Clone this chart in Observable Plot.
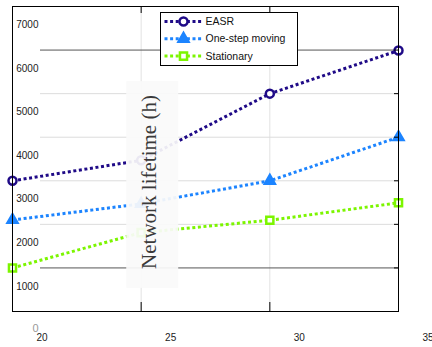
<!DOCTYPE html>
<html><head><meta charset="utf-8">
<script src="https://cdn.jsdelivr.net/npm/d3@7"></script>
<script src="https://cdn.jsdelivr.net/npm/@observablehq/plot@0.6"></script>
<style>
html,body{margin:0;padding:0;background:#fff;}
#wrap{position:relative;width:432px;height:347px;overflow:hidden;background:#fff;}
#legend{position:absolute;left:0;top:0;}
</style></head><body><div id="wrap"></div>
<script>
// ---- data ----
const xValues = [20, 25, 30, 35];
const seriesNames = ["EASR", "One-step moving", "Stationary"];
const easr = [3000, 3470, 5000, 5990];
const oneStep = [2100, 2470, 3000, 4000];
const stationary = [1000, 1810, 2095, 2495];
const seriesColors = ["#1f0a87", "#1c84ff", "#7cf500"];
const seriesSymbols = ["circle", "triangle", "square"];
const yTickLabels = [0, 1000, 2000, 3000, 4000, 5000, 6000, 7000];
const xTickLabels = [20, 25, 30, 35];
const yLabel = "Network lifetime (h)";

const seriesValues = [easr, oneStep, stationary];
const rows = seriesNames.flatMap((name, s) => xValues.map((x, i) => ({series: name, x, y: seriesValues[s][i]})));
const filledSeries = "One-step moving";

const innerY = yTickLabels.filter(v => v > 0 && v < 7000);
const darkGrid = [1000, 6000];
const lightGrid = innerY.filter(v => !darkGrid.includes(v));
const innerX = xTickLabels.filter(v => v > 20 && v < 35);
const serif = "'Liberation Serif', 'Times New Roman', serif";

const chart = Plot.plot({
  width: 432, height: 347,
  marginLeft: 12, marginRight: 34, marginTop: 6, marginBottom: 36,
  x: {domain: [20, 35], axis: null},
  y: {domain: [0, 7000], axis: null},
  color: {domain: seriesNames, range: seriesColors},
  symbol: {domain: seriesNames, range: seriesSymbols},
  style: {fontFamily: "'Liberation Sans', Arial, sans-serif", background: "white", overflow: "visible"},
  marks: [
    Plot.gridX(innerX, {stroke: "#e2e2e2", strokeOpacity: 1}),
    Plot.gridY(lightGrid, {stroke: "#dcdcdc", strokeOpacity: 1, insetLeft: 28}),
    Plot.gridY(darkGrid, {stroke: "#555", strokeOpacity: 1, insetLeft: 28}),
    Plot.line(rows, {x: "x", y: "y", z: "series", stroke: "series", strokeWidth: 3, strokeLinecap: "butt", strokeDasharray: "3 2.6"}),
    Plot.dot(rows.filter(d => d.series !== filledSeries), {x: "x", y: "y", symbol: "series", stroke: "series", fill: "white", strokeWidth: 2.5, r: 4}),
    Plot.dot(rows.filter(d => d.series === filledSeries), {x: "x", y: "y", symbol: "series", stroke: "series", fill: "series", strokeWidth: 2, r: 4}),
    Plot.text([yLabel], {text: d => d, frameAnchor: "middle", dx: -56, dy: 23, rotate: -90, fontSize: 21, fontFamily: serif, fill: "#3a3a3a"}),
    Plot.frame({stroke: "black"}),
    Plot.axisX({anchor: "bottom", ticks: innerX, tickSize: -9, fill: "none", label: null}),
    Plot.axisX({anchor: "top", ticks: innerX, tickSize: -6, fill: "none", label: null}),
    Plot.axisY({anchor: "right", ticks: innerY, tickSize: -5, fill: "none", label: null}),
    Plot.text(yTickLabels.filter(v => v > 0), {y: d => d, text: d => String(d), frameAnchor: "left", dx: 26, dy: 18.5, textAnchor: "end", fill: "#222", fontSize: 10}),
    Plot.text(yTickLabels.filter(v => v === 0), {y: d => d, text: d => String(d), frameAnchor: "left", dx: 26, dy: 16.5, textAnchor: "end", fill: "#999", fontSize: 11}),
    Plot.text(xTickLabels, {x: d => d, text: d => String(d), frameAnchor: "bottom", dx: 29.5, dy: 29.5, fill: "#222", fontSize: 10})
  ]
});
const wrap = document.getElementById("wrap");
wrap.appendChild(chart);

// ---- pale box behind the rotated label (as in the reference) ----
const labelNode = [...chart.querySelectorAll("text")].find(t => t.textContent === yLabel);
if (labelNode) {
  const r = labelNode.getBoundingClientRect();
  const s = chart.getBoundingClientRect();
  const g = labelNode.parentNode;
  const rect = document.createElementNS("http://www.w3.org/2000/svg", "rect");
  rect.setAttribute("x", r.left - s.left - 11);
  rect.setAttribute("y", r.top - s.top - 14);
  rect.setAttribute("width", r.width + 28);
  rect.setAttribute("height", r.height + 33);
  rect.setAttribute("fill", "#fafafa");
  rect.setAttribute("fill-opacity", 0.93);
  g.parentNode.insertBefore(rect, g);
}

// ---- legend inside the axes (upper middle) ----
const lg = d3.select(wrap).append("svg").attr("id", "legend").attr("width", 432).attr("height", 347)
  .style("pointer-events", "none");
const box = lg.append("g").attr("transform", "translate(160.5,12.5)");
box.append("rect").attr("width", 137).attr("height", 53).attr("fill", "white").attr("stroke", "black").attr("stroke-width", 1);
const rowH = 17.3;
const symbolMap = {circle: d3.symbolCircle, triangle: d3.symbolTriangle, square: d3.symbolSquare};
seriesNames.forEach((name, i) => {
  const g = box.append("g").attr("transform", `translate(0,${9 + i * rowH})`);
  g.append("line").attr("x1", 4).attr("x2", 41).attr("y1", 0).attr("y2", 0)
    .attr("stroke", seriesColors[i]).attr("stroke-width", 3).attr("stroke-dasharray", "3 2.6");
  const filled = name === filledSeries;
  g.append("path").attr("transform", "translate(23,0)")
    .attr("d", d3.symbol(symbolMap[seriesSymbols[i]], Math.PI * 16)())
    .attr("fill", filled ? seriesColors[i] : "white").attr("stroke", seriesColors[i]).attr("stroke-width", filled ? 2 : 2.5);
  g.append("text").attr("x", 45).attr("y", 0).attr("dy", "0.35em")
    .attr("font-family", "'Liberation Sans', Arial, sans-serif").attr("font-size", 10.5).attr("fill", "#111").text(name);
});
</script></body></html>
